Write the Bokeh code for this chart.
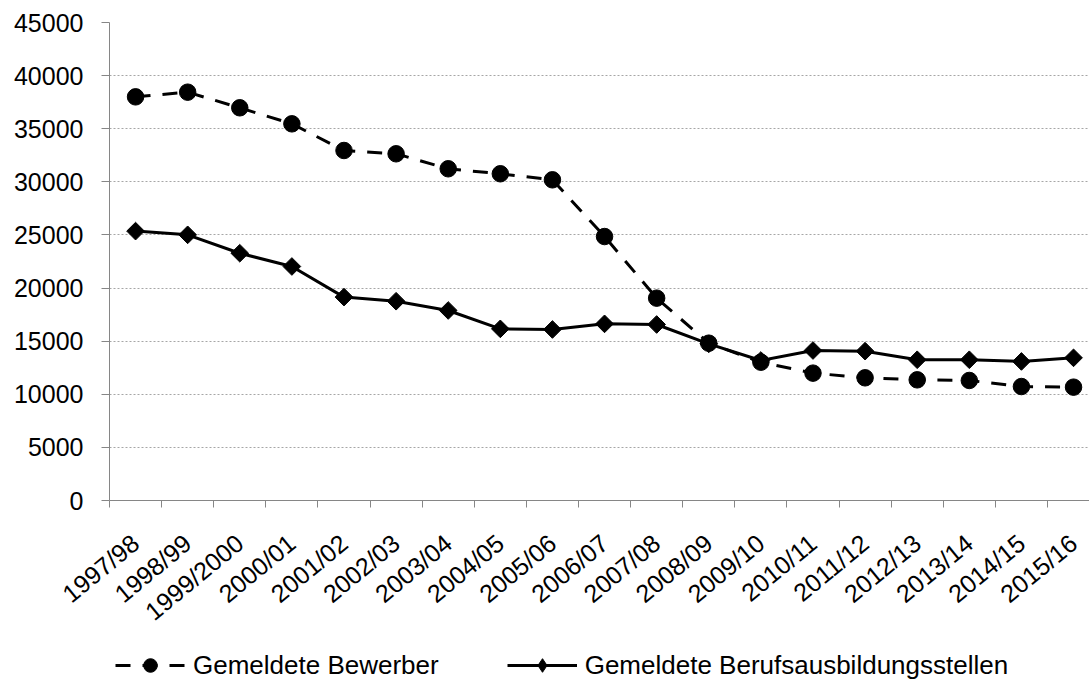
import numpy as np
from math import pi
from bokeh.plotting import figure
from bokeh.layouts import column
from bokeh.models import Range1d, FixedTicker, Legend, LegendItem, ColumnDataSource
from bokeh.embed import file_html
from bokeh.resources import INLINE

categories = ["1997/98", "1998/99", "1999/2000", "2000/01", "2001/02", "2002/03",
              "2003/04", "2004/05", "2005/06", "2006/07", "2007/08", "2008/09",
              "2009/10", "2010/11", "2011/12", "2012/13", "2013/14", "2014/15", "2015/16"]
bewerber = [38000, 38440, 36970, 35460, 32950, 32640, 31230, 30760, 30190, 24850,
            19050, 14810, 13020, 11990, 11550, 11360, 11300, 10730, 10670]
stellen = [25360, 25010, 23280, 22030, 19150, 18760, 17890, 16160, 16100, 16630,
           16570, 14750, 13180, 14120, 14060, 13250, 13250, 13090, 13430]
y_ticks = list(range(0, 45001, 5000))
series_names = ["Gemeldete Bewerber", "Gemeldete Berufsausbildungsstellen"]

FONT = "Liberation Sans"
FS = "25px"
GRAY = "#868686"

idx = list(range(len(categories)))
src = ColumnDataSource(dict(x=idx, bew=bewerber, st=stellen))

W = 1089
p = figure(width=W, height=646, output_backend="svg", toolbar_location=None,
           x_range=Range1d(-0.5, -0.5 + 980 / 52.11), y_range=Range1d(0, 45000),
           min_border_left=109, min_border_top=22, min_border_right=0, min_border_bottom=146)
p.outline_line_color = None

# axes
p.yaxis.ticker = FixedTicker(ticks=y_ticks)
p.yaxis.axis_line_color = GRAY
p.yaxis.major_tick_line_color = GRAY
p.yaxis.major_tick_out = 8
p.yaxis.major_tick_in = 0
p.yaxis.minor_tick_line_color = None
p.yaxis.major_label_standoff = 18
p.yaxis.major_label_text_font = FONT
p.yaxis.major_label_text_font_size = FS
p.yaxis.major_label_text_color = "black"

p.xaxis.ticker = FixedTicker(ticks=idx, minor_ticks=[i - 0.5 for i in idx] + [len(idx) - 0.5])
p.xaxis.major_label_overrides = {i: c for i, c in zip(idx, categories)}
p.xaxis.major_label_orientation = 0.69
p.xaxis.axis_line_color = GRAY
p.xaxis.major_tick_line_color = None
p.xaxis.minor_tick_line_color = GRAY
p.xaxis.minor_tick_out = 7
p.xaxis.minor_tick_in = 0
p.xaxis.major_tick_out = 0
p.xaxis.major_tick_in = 0
p.xaxis.major_label_standoff = 32
p.xaxis.major_label_text_font = FONT
p.xaxis.major_label_text_font_size = FS
p.xaxis.major_label_text_color = "black"

p.xgrid.grid_line_color = None
p.ygrid.grid_line_color = "#a6a6a6"
p.ygrid.grid_line_dash = "2 2"
p.ygrid.grid_line_width = 1

# series
l1 = p.line("x", "bew", source=src, line_color="black", line_width=3, line_dash="15 12")
s1 = p.scatter("x", "bew", source=src, marker="circle", size=16.5, fill_color="black", line_color="black")
l2 = p.line("x", "st", source=src, line_color="black", line_width=3)
s2 = p.scatter("x", "st", source=src, marker="square", angle=pi / 4, size=12.5,
               fill_color="black", line_color="black")

# legend strip below the chart (same data source; ranges keep its glyphs out of view)
q = figure(width=W, height=36, output_backend="svg", toolbar_location=None,
           x_range=Range1d(-100, -99), y_range=Range1d(-100, -99),
           x_axis_type=None, y_axis_type=None,
           min_border_left=0, min_border_right=0, min_border_top=0, min_border_bottom=0)
q.outline_line_color = None
q.xgrid.grid_line_color = None
q.ygrid.grid_line_color = None
m1 = q.line("x", "bew", source=src, line_color="black", line_width=3, line_dash="15 12")
m2 = q.scatter("x", "bew", source=src, marker="circle", size=16.5, fill_color="black", line_color="black")
m3 = q.line("x", "st", source=src, line_color="black", line_width=3)
m4 = q.scatter("x", "st", source=src, marker="diamond", size=10, fill_color="black", line_color="black")

legend = Legend(items=[LegendItem(label=series_names[0], renderers=[m1, m2]),
                       LegendItem(label=series_names[1], renderers=[m3, m4])],
                orientation="horizontal", location=(6, 0),
                glyph_width=70, glyph_height=34, label_height=26, label_standoff=8,
                spacing=68, padding=0, margin=0,
                border_line_color=None, background_fill_alpha=0,
                label_text_font=FONT, label_text_font_size="26px", label_text_color="black")
q.add_layout(legend, "center")

open("out.html", "w").write(file_html(column(p, q, spacing=0), INLINE))
